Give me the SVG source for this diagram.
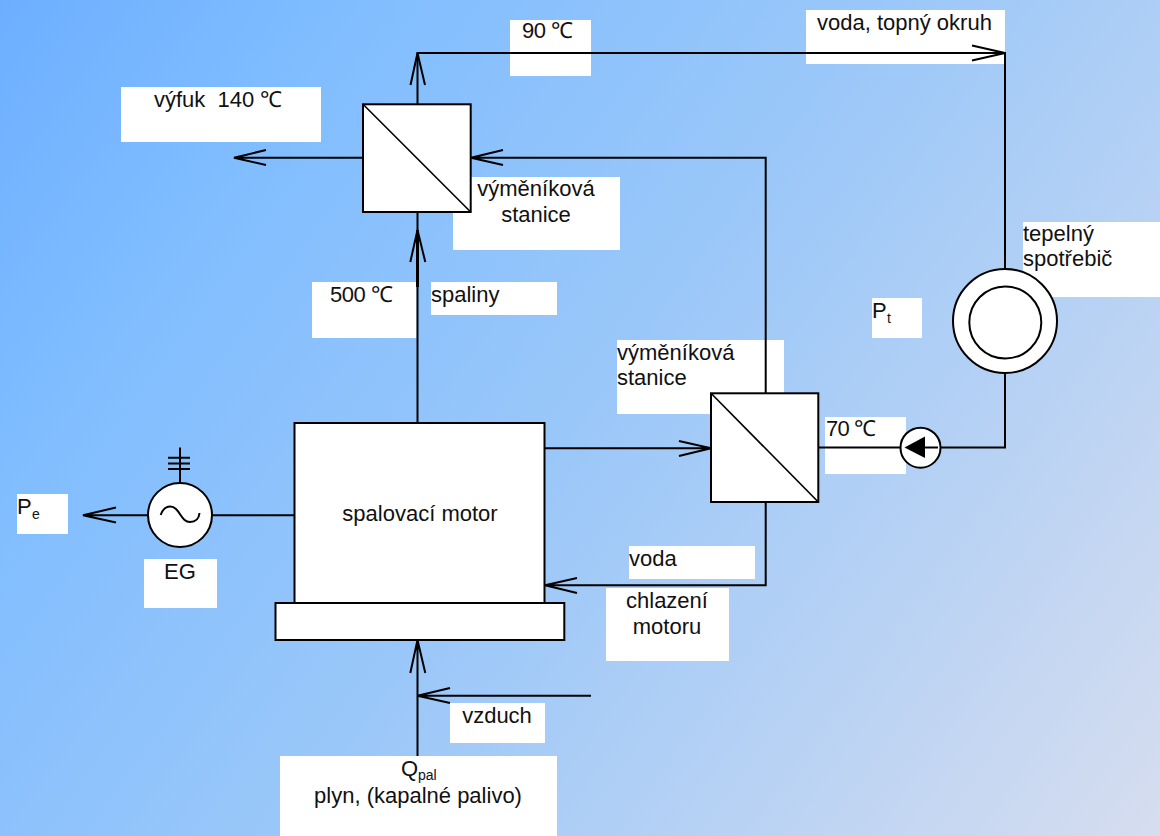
<svg xmlns="http://www.w3.org/2000/svg" width="1160" height="836" viewBox="0 0 1160 836">
<style>
text{font-family:"Liberation Sans",Arial,sans-serif;font-size:22px;fill:#111}
text.s{font-size:14px}
.m{text-anchor:middle}
.l{fill:#fff;stroke:none}
.n{fill:#fff;stroke:#000;stroke-width:2}
.t{fill:none;stroke:#000;stroke-width:1.6}
#connectors path{fill:none;stroke:#000;stroke-width:2}
</style>
<defs>
<linearGradient id="bg" gradientUnits="userSpaceOnUse" x1="0" y1="0" x2="1160" y2="836">
<stop offset="0" stop-color="#6dafff"/>
<stop offset=".2" stop-color="#80bdff"/>
<stop offset=".5" stop-color="#9ac7f9"/>
<stop offset="1" stop-color="#d6ddef"/>
</linearGradient>
</defs>
<rect width="1160" height="836" fill="url(#bg)"/>
<g id="labels">
<g id="label-vyfuk"><rect class="l" x="121" y="87" width="200" height="55"/><text x="154" y="107" xml:space="preserve">výfuk  140 ℃</text></g>
<g id="label-90"><rect class="l" x="510" y="20" width="81" height="56"/><text x="522" y="38" textLength="51">90 ℃</text></g>
<g id="label-voda-topny"><rect class="l" x="806" y="10" width="199" height="54"/><text x="817" y="30">voda, topný okruh</text></g>
<g id="label-stanice-1"><rect class="l" x="453" y="177" width="167" height="73"/><text class="m" x="536" y="196">výměníková</text><text class="m" x="536" y="222">stanice</text></g>
<g id="label-500"><rect class="l" x="312" y="282" width="104.500" height="56"/><text x="330" y="302" textLength="63">500 ℃</text></g>
<g id="label-spaliny"><rect class="l" x="431" y="282" width="126" height="33"/><text x="431" y="302">spaliny</text></g>
<g id="label-spotrebic"><rect class="l" x="1023" y="222" width="137" height="75"/><text x="1023" y="241">tepelný</text><text x="1023" y="266">spotřebič</text></g>
<g id="label-pt"><rect class="l" x="872" y="298" width="50" height="40"/><text x="872" y="318">P</text><text class="s" x="887" y="323">t</text></g>
<g id="label-stanice-2"><rect class="l" x="617" y="340" width="167" height="74"/><text x="617" y="360">výměníková</text><text x="617" y="385">stanice</text></g>
<g id="label-70"><rect class="l" x="825" y="417" width="81" height="57"/><text x="826" y="436" textLength="50">70 ℃</text></g>
<g id="label-pe"><rect class="l" x="17" y="494" width="51" height="40"/><text x="17" y="514">P</text><text class="s" x="32" y="519">e</text></g>
<g id="label-eg"><rect class="l" x="144" y="559" width="73" height="49"/><text class="m" x="180" y="579">EG</text></g>
<g id="label-voda"><rect class="l" x="629" y="546" width="126" height="33"/><text x="629" y="566">voda</text></g>
<g id="label-chlazeni"><rect class="l" x="606" y="588" width="123" height="73"/><text class="m" x="667" y="608">chlazení</text><text class="m" x="667" y="634">motoru</text></g>
<g id="label-vzduch"><rect class="l" x="450" y="703" width="95" height="40"/><text class="m" x="497" y="723">vzduch</text></g>
<g id="label-palivo"><rect class="l" x="280" y="756" width="277" height="80"/><text x="401" y="776">Q</text><text class="s" x="418" y="780">pal</text><text class="m" x="418" y="803">plyn, (kapalné palivo)</text></g>
</g>
<g id="connectors">
<path d="M1005 373V447.500H819"/>
<path d="M1005 269V53H417.500V104"/>
<path d="M972 45.500L1005 53L972 60.500"/>
<path d="M410.500 85L417.500 53L425 85"/>
<path d="M363 157.700H234M266 150L234 157.700L266 165"/>
<path d="M765.700 393V157.700H471M503 150L471 157.700L503 165"/>
<path d="M417.500 423V212"/>
<path d="M417.500 287V230" style="stroke-width:3"/>
<path d="M410.300 262L417.500 230L425.300 262"/>
<path d="M544.500 448.300H711M679 441L711 448.300L679 456"/>
<path d="M765.700 502V585.300H545M577 578L545 585.300L577 593"/>
<path d="M417.500 756V640M410.300 673L417.500 640L425.300 673"/>
<path d="M591 695.700H417.500M450 688L417.500 695.700L450 703"/>
<path d="M148 515.300H83M116 507.500L83 515.300L116 522.500"/>
<path d="M212 515.300H294.500"/>
<path d="M180 483V447.500M168 457.700H190M168 463.500H190M168 469H190"/>
</g>
<g id="hx-top"><rect class="n" x="363" y="104.300" width="107.700" height="107.700"/><path class="t" d="M363 104.300L470.700 212"/></g>
<g id="hx-bottom"><rect class="n" x="711" y="393.300" width="107.300" height="108.700"/><path class="t" d="M711 393.300L818.300 502"/></g>
<g id="engine"><rect class="n" x="294.500" y="423" width="250" height="180"/><text class="m" x="420" y="521">spalovací motor</text></g>
<g id="engine-base"><rect class="n" x="275.500" y="603" width="288.800" height="37"/></g>
<g id="generator"><circle class="n" cx="180" cy="515" r="32"/><path class="t" style="stroke-width:2" d="M160.700 515C164 505 172 505 176 509C181 514 183 522 190 522C196 522 199 518 199.500 513"/></g>
<g id="consumer"><circle class="n" cx="1005" cy="321" r="52"/><circle class="n" cx="1005.300" cy="322.500" r="36"/></g>
<g id="pump"><circle class="n" cx="920.500" cy="447.700" r="20"/><path d="M904.500 447.500L925 436.500V458Z" fill="#000"/><path d="M925 447.500H938" stroke="#000" stroke-width="2"/></g>
</svg>
